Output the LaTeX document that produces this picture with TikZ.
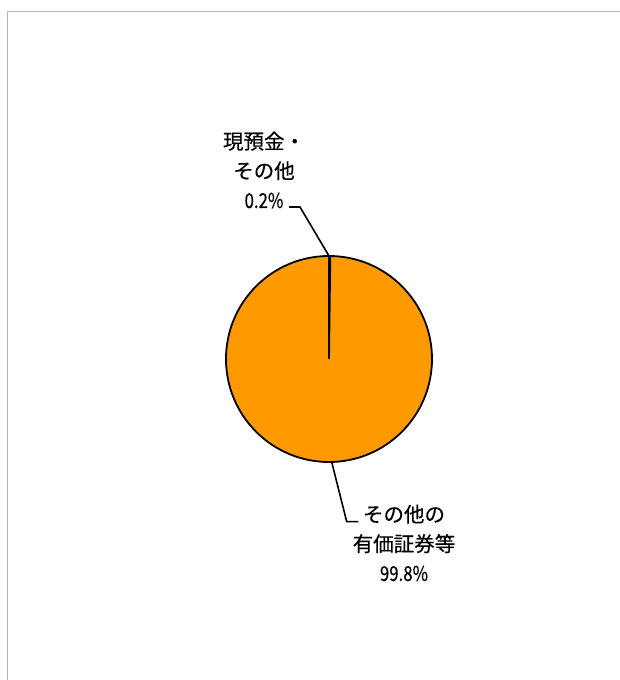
\documentclass[tikz,border=0pt]{standalone}
\usepackage{fontspec}
\setmainfont{Noto Sans CJK JP}[FakeBold=0.4]
\usetikzlibrary{positioning,calc}

\definecolor{pieorange}{HTML}{FF9900}
\definecolor{framegray}{HTML}{B4B4B4}

\newcommand{\pctfig}[1]{{\fontsize{20.5}{29}\selectfont\scalebox{0.82}[1]{#1}}}

\tikzset{
    slicelabel/.style={align=center, inner sep=0pt, font={\fontsize{20.5}{29.5}\selectfont}},
    leader/.style={line width=1.6pt},
}

\begin{document}
\begin{tikzpicture}[x=1pt, y=1pt]
            \useasboundingbox
                (0,0) rectangle (620,680)
            ;
            \draw[framegray, line width=0.8pt]
                (7,0) -- (7,669) -- (620,669)
            ;
            \coordinate (centre) at (329,321);
            % pie
            \filldraw[fill=pieorange, line width=1.8pt]
                (centre) circle (103)
            ;
            \draw[line width=1.8pt]
                (centre) -- ++(90:103)
                (centre) -- ++(89.28:103)
            ;
            % labels
            \node[slicelabel] (cash) at (264,510) {現預金・\\その他\\\pctfig{0.2\%}};
            \node[slicelabel] (securities) at (404,137) {その他の\\有価証券等\\\pctfig{99.8\%}};
            \coordinate (cashtip) at ($(centre)+(90:103)$);
            \coordinate (cashknee) at (300,473);
            \coordinate (cashend) at (289,473);
            \coordinate (sectip) at ($(centre)+(-88.5:103)$);
            \coordinate (secknee) at (346.7,158.3);
            \coordinate (secend) at (358.3,158.3);
            \draw[leader]
                (cashtip) -- (cashknee) -- (cashend)
            ;
            \draw[leader]
                (sectip) -- (secknee) -- (secend)
            ;
        \end{tikzpicture}
\end{document}
